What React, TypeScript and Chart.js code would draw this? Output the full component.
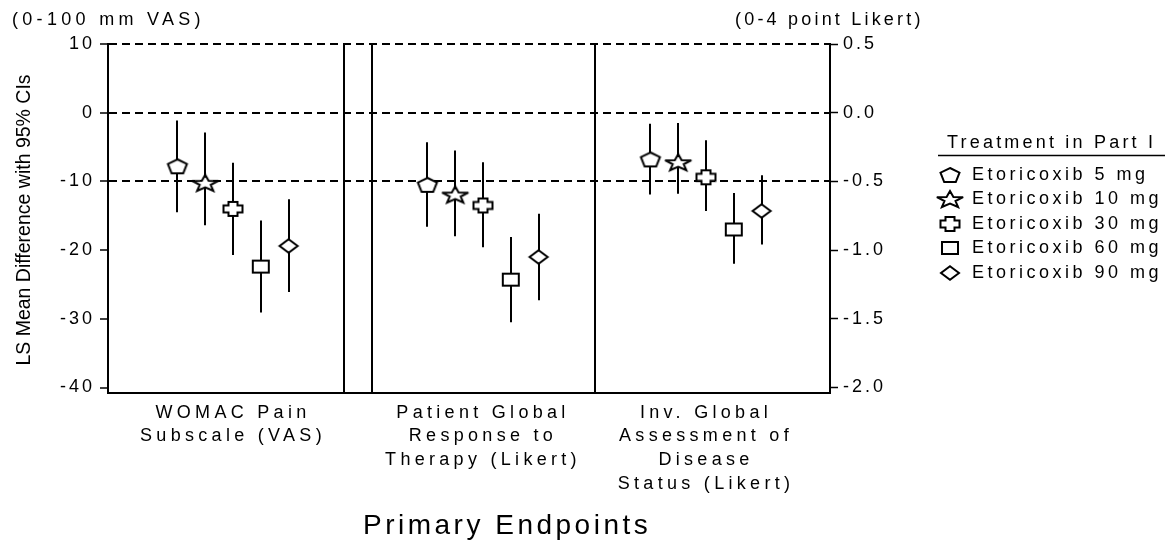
import React, { useEffect, useRef } from 'react';
import { Chart, registerables } from 'chart.js';

Chart.register(...registerables);

// ---------- data ----------
const categoryLabels: string[][] = [
  ['WOMAC Pain', 'Subscale (VAS)'],
  ['Patient Global', 'Response to', 'Therapy (Likert)'],
  ['Inv. Global', 'Assessment of', 'Disease', 'Status (Likert)'],
];

const doseLabels = [
  'Etoricoxib 5 mg',
  'Etoricoxib 10 mg',
  'Etoricoxib 30 mg',
  'Etoricoxib 60 mg',
  'Etoricoxib 90 mg',
];
const markerKinds = ['pentagon', 'star', 'cross', 'square', 'diamond'];

// WOMAC Pain Subscale (0-100 mm VAS)
const womacMean = [-7.8, -10.2, -14.0, -22.4, -19.4];
const womacLower = [-14.5, -16.4, -20.7, -29.1, -26.1];
const womacUpper = [-1.15, -2.9, -7.3, -15.7, -12.6];

// Patient Global Response to Therapy (0-4 point Likert)
const patientMean = [-0.525, -0.595, -0.675, -1.215, -1.05];
const patientLower = [-0.83, -0.9, -0.98, -1.525, -1.365];
const patientUpper = [-0.215, -0.275, -0.36, -0.905, -0.735];

// Investigator Global Assessment of Disease Status (0-4 point Likert)
const invMean = [-0.34, -0.36, -0.47, -0.85, -0.715];
const invLower = [-0.595, -0.59, -0.715, -1.1, -0.96];
const invUpper = [-0.08, -0.075, -0.2, -0.585, -0.455];

const leftTicks = [10, 0, -10, -20, -30, -40];
const rightTicks = [0.5, 0.0, -0.5, -1.0, -1.5, -2.0];
const dashedAt = [10, 0, -10];

// ---------- axis layout ----------
const Y_MIN = -40.8;
const Y_MAX = 10;
const LIKERT_PER_MM = 1 / 20;
const X_MAX = 722;
const categoryCenters = [125, 375, 598];
const separators = [236, 264, 487];
const doseStep = 27.8;

const FONT = '"Liberation Sans", Arial, Helvetica, sans-serif';

function makeMarker(kind: string): HTMLCanvasElement {
  const c = document.createElement('canvas');
  c.width = 40;
  c.height = 28;
  const g = c.getContext('2d') as CanvasRenderingContext2D;
  g.translate(20, 14);
  g.lineWidth = 2;
  g.strokeStyle = '#000';
  g.fillStyle = '#fff';
  g.miterLimit = 4;
  g.beginPath();
  let pts: number[][] = [];
  if (kind === 'pentagon') {
    pts = [[0, -7], [9.5, -2.3], [5.8, 7], [-5.8, 7], [-9.5, -2.3]];
  } else if (kind === 'star') {
    for (let k = 0; k < 10; k++) {
      const r = k % 2 ? 5.8 : 13.8;
      const a = ((-90 + 36 * k) * Math.PI) / 180;
      pts.push([r * Math.cos(a), r * Math.sin(a) * 0.64 + 0.9]);
    }
  } else if (kind === 'cross') {
    pts = [
      [-4.5, -7], [4.5, -7], [4.5, -3.5], [9.5, -3.5], [9.5, 3.5], [4.5, 3.5],
      [4.5, 7], [-4.5, 7], [-4.5, 3.5], [-9.5, 3.5], [-9.5, -3.5], [-4.5, -3.5],
    ];
  } else if (kind === 'square') {
    pts = [[-8, -6], [8, -6], [8, 6], [-8, 6]];
  } else {
    pts = [[0, -6.8], [9, 0], [0, 6.8], [-9, 0]];
  }
  pts.forEach((p, i) => (i ? g.lineTo(p[0], p[1]) : g.moveTo(p[0], p[1])));
  g.closePath();
  g.fill();
  g.stroke();
  return c;
}

function drawText(
  ctx: CanvasRenderingContext2D,
  s: string,
  x: number,
  y: number,
  size: number,
  ls: number,
  align: CanvasTextAlign = 'left'
) {
  ctx.font = `${size}px ${FONT}`;
  (ctx as any).letterSpacing = `${ls}px`;
  ctx.textAlign = align;
  ctx.textBaseline = 'middle';
  ctx.fillText(s, x, y);
}

export default function App() {
  const ref = useRef<HTMLCanvasElement | null>(null);

  useEffect(() => {
    if (!ref.current) return;
    const markers = markerKinds.map(makeMarker);

    const datasets: any[] = [];
    doseLabels.forEach((label, i) => {
      const off = (i - 2) * doseStep;
      datasets.push({
        label,
        yAxisID: 'y',
        data: [{ x: categoryCenters[0] + off, y: womacMean[i] }],
        lo: [womacLower[i]],
        hi: [womacUpper[i]],
        pointStyle: markers[i],
        pointRadius: 8,
        showLine: false,
      });
      datasets.push({
        label,
        yAxisID: 'y2',
        data: [
          { x: categoryCenters[1] + off, y: patientMean[i] },
          { x: categoryCenters[2] + off, y: invMean[i] },
        ],
        lo: [patientLower[i], invLower[i]],
        hi: [patientUpper[i], invUpper[i]],
        pointStyle: markers[i],
        pointRadius: 8,
        showLine: false,
      });
    });

    const spacingPlugin = {
      id: 'spacing',
      beforeDraw(chart: any) {
        (chart.ctx as any).letterSpacing = '3px';
        const xs = chart.scales.x;
        if (xs && !xs.__spaced) {
          xs.__spaced = true;
          const orig = xs.drawLabels;
          xs.drawLabels = function (area: any) {
            (this.ctx as any).letterSpacing = '4.3px';
            orig.call(this, area);
            (this.ctx as any).letterSpacing = '3px';
          };
        }
      },
    };

    const barsPlugin = {
      id: 'bars',
      beforeDatasetsDraw(chart: any) {
        const ctx: CanvasRenderingContext2D = chart.ctx;
        const xs = chart.scales.x;
        const area = chart.chartArea;
        ctx.save();
        ctx.strokeStyle = '#000';
        ctx.lineWidth = 2;
        separators.forEach((v) => {
          const px = Math.round(xs.getPixelForValue(v));
          ctx.beginPath();
          ctx.moveTo(px, area.top);
          ctx.lineTo(px, area.bottom);
          ctx.stroke();
        });
        chart.data.datasets.forEach((ds: any, di: number) => {
          const meta = chart.getDatasetMeta(di);
          const ys = chart.scales[ds.yAxisID];
          meta.data.forEach((pt: any, j: number) => {
            const x = Math.round(pt.x);
            ctx.beginPath();
            ctx.moveTo(x, ys.getPixelForValue(ds.lo[j]));
            ctx.lineTo(x, ys.getPixelForValue(ds.hi[j]));
            ctx.stroke();
          });
        });
        ctx.restore();
      },
    };

    const textPlugin = {
      id: 'texts',
      afterDraw(chart: any) {
        const ctx: CanvasRenderingContext2D = chart.ctx;
        ctx.save();
        ctx.fillStyle = '#000';
        drawText(ctx, '(0-100 mm VAS)', 12, 20.5, 18, 4.3);
        drawText(ctx, '(0-4 point Likert)', 735, 20.5, 18, 3.2);
        drawText(ctx, 'Primary Endpoints', 363, 526, 28, 3.5);

        ctx.save();
        ctx.translate(25, 220);
        ctx.rotate(-Math.PI / 2);
        drawText(ctx, 'LS Mean Difference with 95% CIs', 0, 0, 19.5, 0, 'center');
        ctx.restore();

        // legend
        drawText(ctx, 'Treatment in Part I', 947, 143.5, 18, 3.2);
        ctx.strokeStyle = '#000';
        ctx.lineWidth = 1.5;
        ctx.beginPath();
        ctx.moveTo(938, 155.5);
        ctx.lineTo(1165, 155.5);
        ctx.stroke();
        doseLabels.forEach((label, i) => {
          const y = 175 + i * 24.4;
          const m = markers[i];
          ctx.drawImage(m, 950 - m.width / 2, Math.round(y - m.height / 2));
          drawText(ctx, label, 972, y, 18, 3.5);
        });
        ctx.restore();
        (ctx as any).letterSpacing = '0px';
      },
    };

    const tickFont = { family: FONT, size: 18 };

    const chart = new Chart(ref.current, {
      type: 'scatter',
      data: { datasets },
      plugins: [spacingPlugin, barsPlugin, textPlugin],
      options: {
        responsive: false,
        animation: false,
        events: [],
        layout: { padding: { top: 44, left: 0, right: 0, bottom: 0 } },
        plugins: { legend: { display: false }, tooltip: { enabled: false } },
        scales: {
          x: {
            type: 'linear',
            position: 'bottom',
            min: 0,
            max: X_MAX,
            afterBuildTicks: (s: any) => {
              s.ticks = categoryCenters.map((v) => ({ value: v }));
            },
            afterFit: (s: any) => {
              s.height = 151;
            },
            ticks: {
              autoSkip: false,
              maxRotation: 0,
              minRotation: 0,
              padding: 8,
              color: '#000',
              font: { family: FONT, size: 18, lineHeight: 1.311 },
              callback: (_v: any, i: number) => categoryLabels[i],
            },
            grid: { display: false, drawTicks: false },
            border: { display: true, color: '#000', width: 2 },
          },
          y: {
            type: 'linear',
            position: 'left',
            min: Y_MIN,
            max: Y_MAX,
            afterBuildTicks: (s: any) => {
              s.ticks = leftTicks.map((v) => ({ value: v }));
            },
            afterFit: (s: any) => {
              s.width = 108;
            },
            ticks: {
              color: '#000',
              font: tickFont,
              padding: 5,
              callback: (v: any) => String(v),
            },
            grid: {
              color: (c: any) =>
                c.tick && dashedAt.includes(c.tick.value) ? '#000' : 'rgba(0,0,0,0)',
              lineWidth: 2,
              tickColor: '#000',
              tickWidth: 1.5,
              tickLength: 8,
              tickBorderDash: [],
            },
            border: { display: true, color: '#000', width: 2, dash: [8, 5] },
          },
          y2: {
            type: 'linear',
            position: 'right',
            min: Y_MIN * LIKERT_PER_MM,
            max: Y_MAX * LIKERT_PER_MM,
            afterBuildTicks: (s: any) => {
              s.ticks = rightTicks.map((v) => ({ value: v }));
            },
            afterFit: (s: any) => {
              s.width = 339;
            },
            ticks: {
              color: '#000',
              font: tickFont,
              padding: 5,
              callback: (v: any) => Number(v).toFixed(1),
            },
            grid: {
              drawOnChartArea: false,
              tickColor: '#000',
              tickWidth: 1.5,
              tickLength: 8,
            },
            border: { display: true, color: '#000', width: 2 },
          },
        },
      } as any,
    });

    return () => chart.destroy();
  }, []);

  return (
    <div style={{ position: 'absolute', left: 0, top: 0, width: 1169, height: 544, background: '#fff' }}>
      <canvas ref={ref} width={1169} height={544} style={{ display: 'block' }} />
    </div>
  );
}
